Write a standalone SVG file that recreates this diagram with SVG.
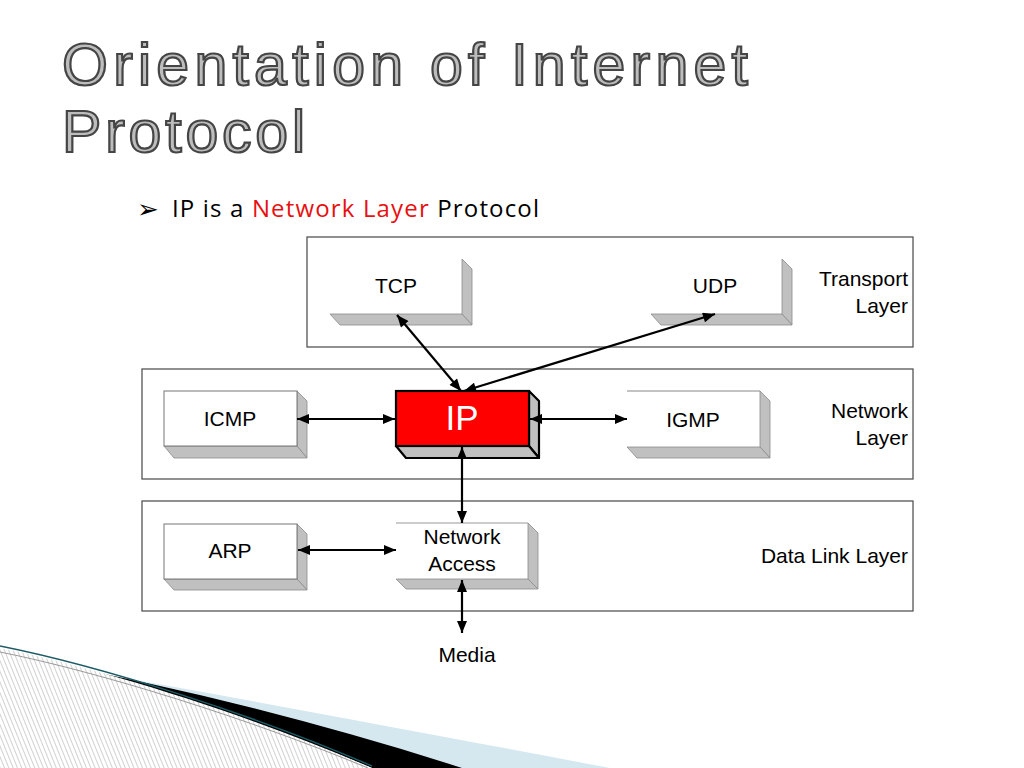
<svg xmlns="http://www.w3.org/2000/svg" width="1024" height="768" viewBox="0 0 1024 768">
<defs>
<style>
.title{font-family:"Liberation Sans",Arial,sans-serif;font-size:59px;fill:#bdbdbd;stroke:#454545;stroke-width:2.2}
.sub{font-family:"Open Sans","DejaVu Sans",sans-serif;font-size:24px;fill:#000}
.lbl{font-family:"Liberation Sans",Arial,sans-serif;font-size:21px;fill:#000}
.mid{text-anchor:middle}
.end{text-anchor:end}
.layer{fill:#fff;stroke:#555;stroke-width:1.3}
.face{fill:#fff;stroke:#777;stroke-width:1}
.facenb{fill:#fff;stroke:none}
.side{fill:#c0c0c0;stroke:#8a8a8a;stroke-width:0.8}
.ipface{fill:#ff0000;stroke:#000;stroke-width:2.2}
.ipside{fill:#c0c0c0;stroke:#000;stroke-width:2.2;stroke-linejoin:round}
.conn{stroke:#000;stroke-width:2.2;fill:none;marker-start:url(#ah);marker-end:url(#ah)}
</style>
<marker id="ah" viewBox="0 0 12 10" markerUnits="userSpaceOnUse" markerWidth="13" markerHeight="10" refX="12" refY="5" orient="auto-start-reverse">
<path d="M0,0 L12,5 L0,10 z" fill="#000"/>
</marker>
<pattern id="hatch" width="4" height="4" patternUnits="userSpaceOnUse" patternTransform="rotate(-22)">
<rect width="4" height="4" fill="#fff"/>
<line x1="0" y1="0" x2="0" y2="4" stroke="#9a9a9a" stroke-width="0.9"/>
</pattern>
</defs>
<rect width="1024" height="768" fill="#fff"/>

<g id="decoration">
<path d="M90,672 C250,700 420,732 610,768 L460,768 C320,722 180,690 40,661 Z" fill="#d6e8ef"/>
<path d="M40,661 C180,688 320,722 462,768 L372,768 C260,722 130,676 40,661 Z" fill="#000"/>
<path d="M0,648 C100,668 250,715 372,768 L0,768 Z" fill="url(#hatch)"/>
<path d="M0,646 C100,666 250,713 372,766" fill="none" stroke="#1d5c66" stroke-width="1.5"/>
<path d="M0,652 C100,672 250,719 368,768" fill="none" stroke="#9a9a9a" stroke-width="1"/>
</g>

<g id="title">
<text class="title" x="62" y="85" textLength="686">Orientation of Internet</text>
<text class="title" x="62" y="152" textLength="243">Protocol</text>
</g>

<g id="subtitle">
<text x="137" y="218" font-family="DejaVu Sans, sans-serif" font-size="26" fill="#000">➢</text>
<text class="sub" x="172" y="217" textLength="367">IP is a <tspan fill="#e81010">Network Layer</tspan> Protocol</text>
</g>

<g id="transport-layer">
<rect class="layer" x="307" y="237" width="606" height="110"/>
<text class="lbl end" x="908" y="286">Transport</text>
<text class="lbl end" x="908" y="313">Layer</text>
</g>
<g id="network-layer">
<rect class="layer" x="142" y="369" width="771" height="110"/>
<text class="lbl end" x="908" y="418">Network</text>
<text class="lbl end" x="908" y="445">Layer</text>
</g>
<g id="datalink-layer">
<rect class="layer" x="142" y="501" width="771" height="110"/>
<text class="lbl end" x="908" y="563">Data Link Layer</text>
</g>

<g id="tcp">
<rect class="facenb" x="330" y="259" width="132" height="55"/>
<polygon class="side" points="462,259 472,269 472,325 462,314"/>
<polygon class="side" points="330,314 462,314 472,325 340,325"/>
<text class="lbl mid" x="396" y="293">TCP</text>
</g>
<g id="udp">
<rect class="facenb" x="651" y="259" width="131" height="55"/>
<polygon class="side" points="782,259 792,269 792,325 782,314"/>
<polygon class="side" points="651,314 782,314 792,325 661,325"/>
<text class="lbl mid" x="715" y="293">UDP</text>
</g>

<g id="icmp">
<polygon class="side" points="297,391 307,401 307,458 297,446"/>
<polygon class="side" points="164,446 297,446 307,458 174,458"/>
<rect class="face" x="164" y="391" width="133" height="55"/>
<text class="lbl mid" x="230" y="426">ICMP</text>
</g>
<g id="ip">
<polygon class="ipside" points="529,391 539,401 539,458 529,446"/>
<polygon class="ipside" points="396,446 529,446 539,458 406,458"/>
<rect class="ipface" x="396" y="391" width="133" height="55"/>
<text x="462" y="430" text-anchor="middle" font-family="Liberation Sans, Arial, sans-serif" font-size="35" fill="#fff">IP</text>
</g>
<g id="igmp">
<rect class="facenb" x="627" y="391" width="133" height="56"/>
<polygon class="side" points="760,391 770,401 770,458 760,447"/>
<polygon class="side" points="627,447 760,447 770,458 637,458"/>
<line x1="627" y1="391" x2="760" y2="391" stroke="#888" stroke-width="1"/>
<text class="lbl mid" x="693" y="427">IGMP</text>
</g>

<g id="arp">
<polygon class="side" points="297,524 307,534 307,590 297,579"/>
<polygon class="side" points="164,579 297,579 307,590 174,590"/>
<rect class="face" x="164" y="524" width="133" height="55"/>
<text class="lbl mid" x="230" y="558">ARP</text>
</g>
<g id="network-access">
<rect class="facenb" x="396" y="523" width="132" height="56"/>
<polygon class="side" points="528,523 538,533 538,589 528,579"/>
<polygon class="side" points="396,579 528,579 538,589 406,589"/>
<line x1="396" y1="523" x2="528" y2="523" stroke="#999" stroke-width="1"/>
<text class="lbl mid" x="462" y="544">Network</text>
<text class="lbl mid" x="462" y="571">Access</text>
</g>

<g id="media">
<text class="lbl mid" x="467" y="662">Media</text>
</g>

<g id="connectors">
<line class="conn" x1="397" y1="315" x2="461" y2="391"/>
<line class="conn" x1="715" y1="314" x2="464" y2="391"/>
<line class="conn" x1="297" y1="419" x2="395" y2="419"/>
<line class="conn" x1="530" y1="419" x2="627" y2="419"/>
<line class="conn" x1="462" y1="447" x2="462" y2="523"/>
<line class="conn" x1="298" y1="550" x2="396" y2="550"/>
<line class="conn" x1="462" y1="580" x2="462" y2="633"/>
</g>
</svg>
